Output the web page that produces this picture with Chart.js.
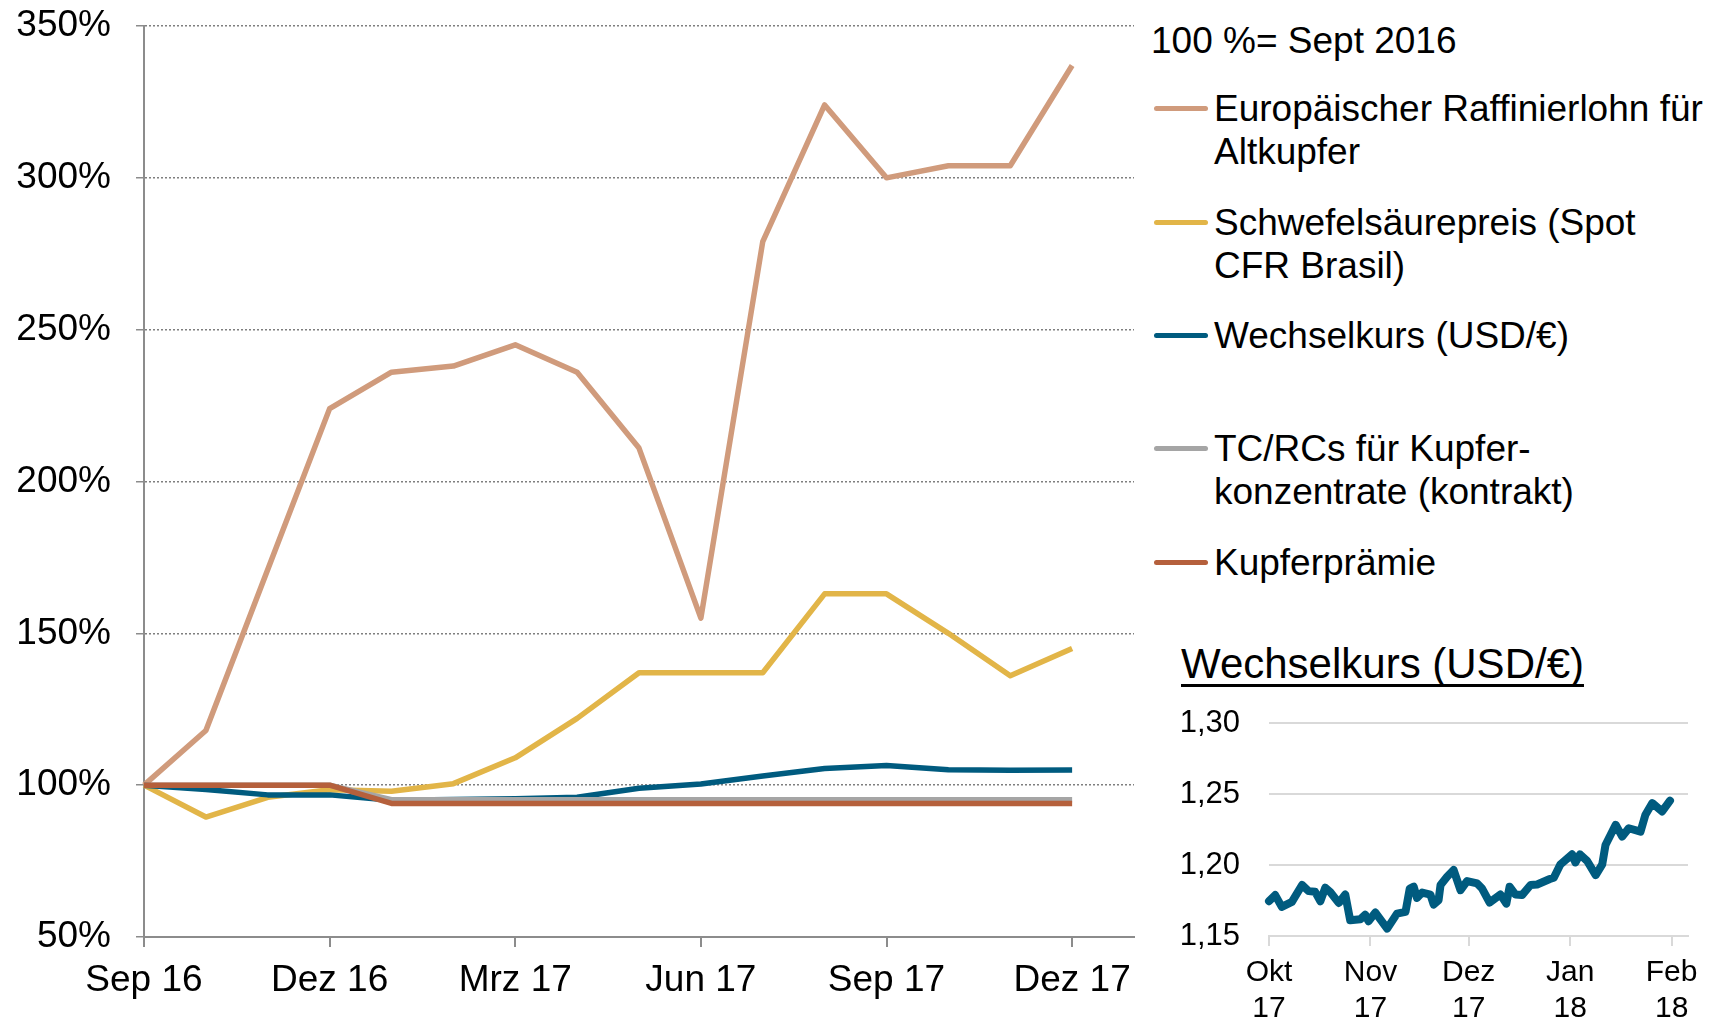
<!DOCTYPE html>
<html>
<head>
<meta charset="utf-8">
<script src="https://cdn.jsdelivr.net/npm/chart.js@4/dist/chart.umd.min.js"></script>
<style>
  body { margin: 0; background: #fff; font-family: "Liberation Sans", Arial, sans-serif; color: #000; }
  #wrap { position: relative; width: 1727px; height: 1021px; overflow: hidden; }
  .abs { position: absolute; }
  .txt { font-size: 37px; line-height: 43px; white-space: nowrap; }
  .swatch { position: absolute; left: 1154px; width: 54px; height: 5px; border-radius: 3px; }
  #insetTitle { left: 1181px; top: 639px; font-size: 42px; line-height: 50px; text-decoration: underline;
                text-decoration-thickness: 3px; text-underline-offset: 6px; text-decoration-skip-ink: none; white-space: nowrap; }
</style>
</head>
<body>
<div id="wrap">
  <canvas id="mainChart" class="abs" width="1140" height="1021" style="left:0;top:0"></canvas>
  <canvas id="insetChart" class="abs" width="587" height="321" style="left:1140px;top:700px"></canvas>
  <div id="legend"></div>
  <div id="insetTitle" class="abs">Wechselkurs (USD/€)</div>
</div>
<script>
// Hauptgrafik, 100 % = Sept 2016
const months = ["Sep 16", "Okt 16", "Nov 16", "Dez 16", "Jan 17", "Feb 17", "Mrz 17", "Apr 17",
                "Mai 17", "Jun 17", "Jul 17", "Aug 17", "Sep 17", "Okt 17", "Nov 17", "Dez 17"];
const raffinierlohn = [100, 118, 171, 224, 236, 238, 245, 236, 211, 155, 279, 324, 300, 304, 304, 337];
const schwefelsaeure = [100, 89.5, 96, 98.5, 98, 100.5, 109, 122, 137, 137, 137, 163, 163, 150, 136, 145];
const wechselkurs = [100, 98.6, 96.8, 96.8, 95, 95.3, 95.5, 96, 99, 100.4, 103, 105.5, 106.5, 105.1, 104.9, 105];
const tcrc = [100, 100, 100, 100, 95.2, 95.2, 95.2, 95.2, 95.2, 95.2, 95.2, 95.2, 95.2, 95.2, 95.2, 95.2];
const kupferpraemie = [100, 100, 100, 100, 94, 94, 94, 94, 94, 94, 94, 94, 94, 94, 94, 94];
const xTickIdx = [0, 3, 6, 9, 12, 15];
const yTicks = [50, 100, 150, 200, 250, 300, 350];

// Inset: Wechselkurs USD/€ (Tage ab 1. Okt 2017)
const insetDays = [0, 1.9, 3.9, 7, 10.1, 12.1, 14.1, 15.7, 17.2, 18.7, 21.3, 23.3, 24.8, 27.9, 29.4, 30.4,
  32.5, 36.1, 39.1, 41.7, 43, 44.2, 45.2, 46.8, 49.3, 50.3, 51.8, 52.4, 54.4, 56.4, 58.5, 60.5, 63.6, 65.1,
  67.4, 70.7, 72.5, 73.5, 75.3, 77.3, 79.9, 81.9, 85.8, 87, 89, 92.6, 93.6, 95, 97.2, 99.8, 101.8, 102.8,
  105.9, 107.9, 109.9, 113.5, 115, 117.1, 120.1, 122.5];
const insetRates = [1.1745, 1.1788, 1.1705, 1.174, 1.1859, 1.1816, 1.1811, 1.1745, 1.184, 1.181, 1.1733,
  1.1792, 1.1611, 1.1618, 1.165, 1.1604, 1.1665, 1.1552, 1.1658, 1.167, 1.1834, 1.1847, 1.1769, 1.1806,
  1.1792, 1.1721, 1.1752, 1.1859, 1.1917, 1.1965, 1.1823, 1.1887, 1.187, 1.1834, 1.1736, 1.1792, 1.1728,
  1.1847, 1.1792, 1.1788, 1.1859, 1.1863, 1.1901, 1.191, 1.2004, 1.2075, 1.2018, 1.2075, 1.2028, 1.1929,
  1.2004, 1.2141, 1.2283, 1.22, 1.2259, 1.2235, 1.2354, 1.2436, 1.2377, 1.2453];
const insetTickDays = [0, 31, 61, 92, 123];
const insetTickLabels = [["Okt", "17"], ["Nov", "17"], ["Dez", "17"], ["Jan", "18"], ["Feb", "18"]];
const insetYTicks = [1.15, 1.20, 1.25, 1.30];

const seriesNames = ["Europäischer Raffinierlohn für\nAltkupfer", "Schwefelsäurepreis (Spot\nCFR Brasil)",
                     "Wechselkurs (USD/€)", "TC/RCs für Kupfer-\nkonzentrate (kontrakt)", "Kupferprämie"];
const seriesColors = ["#D09B7C", "#E2B548", "#005B7F", "#A5A5A5", "#B5603C"];
const seriesData = [raffinierlohn, schwefelsaeure, wechselkurs, tcrc, kupferpraemie];
const legendTops = [87, 201, 314, 427, 541];

Chart.defaults.font.family = '"Liberation Sans", Arial, sans-serif';
Chart.defaults.color = "#000";

// Legende als Text
const legend = document.getElementById("legend");
let head = document.createElement("div");
head.className = "abs txt";
head.style.left = "1151px";
head.style.top = "19px";
head.textContent = "100 %= Sept 2016";
legend.appendChild(head);
seriesNames.forEach((name, i) => {
    const t = document.createElement("div");
    t.className = "abs txt";
    t.style.left = "1214px";
    t.style.top = legendTops[i] + "px";
    t.innerHTML = name.split("\n").join("<br>");
    legend.appendChild(t);
    const s = document.createElement("div");
    s.className = "swatch";
    s.style.top = (legendTops[i] + 19) + "px";
    s.style.background = seriesColors[i];
    legend.appendChild(s);
});

function noScalePad(s) {
    s.paddingTop = 0;
    s.paddingBottom = 0;
    s.paddingLeft = 0;
    s.paddingRight = 0;
}

new Chart(document.getElementById("mainChart"), {
    type: "line",
    data: {
        datasets: seriesData.map((vals, i) => ({
            label: seriesNames[i],
            data: vals.map((v, k) => ({ x: k, y: v })),
            borderColor: seriesColors[i],
            borderWidth: 5.5,
            pointRadius: 0,
            tension: 0,
            fill: false,
            clip: false,
            borderJoinStyle: "round",
            order: 5 - i
        }))
    },
    options: {
        responsive: false,
        animation: false,
        layout: { padding: { top: 26, right: 6 } },
        plugins: { legend: { display: false }, tooltip: { enabled: false } },
        scales: {
            x: {
                type: "linear",
                min: 0,
                max: 16,
                afterBuildTicks: s => { s.ticks = xTickIdx.map(v => ({ value: v })); },
                afterFit: s => { s.height = 84; noScalePad(s); },
                ticks: {
                    font: { size: 37 },
                    padding: 12,
                    maxRotation: 0,
                    autoSkip: false,
                    callback: v => months[v]
                },
                grid: { drawOnChartArea: false, color: "#8c8c8c", lineWidth: 2, tickLength: 10 },
                border: { color: "#8c8c8c", width: 2 }
            },
            y: {
                min: 50,
                max: 350,
                afterBuildTicks: s => { s.ticks = yTicks.map(v => ({ value: v })); },
                afterFit: s => { s.width = 144; noScalePad(s); },
                ticks: { font: { size: 37 }, padding: 25, callback: v => v + "%" },
                grid: { color: "#7f7f7f", lineWidth: 1.5, tickLength: 8, tickBorderDash: [], tickColor: "#8c8c8c" },
                border: { color: "#8c8c8c", width: 2, dash: [2, 2] }
            }
        }
    }
});

new Chart(document.getElementById("insetChart"), {
    type: "line",
    data: {
        datasets: [{
            data: insetDays.map((d, k) => ({ x: d, y: insetRates[k] })),
            borderColor: "#005B7F",
            borderWidth: 8,
            pointRadius: 0,
            tension: 0,
            clip: false,
            borderJoinStyle: "round",
            borderCapStyle: "round"
        }]
    },
    options: {
        responsive: false,
        animation: false,
        layout: { padding: { top: 23, right: 39 } },
        plugins: { legend: { display: false }, tooltip: { enabled: false } },
        scales: {
            x: {
                type: "linear",
                min: 0,
                max: 128,
                afterBuildTicks: s => { s.ticks = insetTickDays.map(v => ({ value: v })); },
                afterFit: s => { s.height = 85; noScalePad(s); },
                ticks: {
                    font: { size: 30, lineHeight: 1.2 },
                    padding: 9,
                    maxRotation: 0,
                    autoSkip: false,
                    callback: (v, i) => insetTickLabels[i]
                },
                grid: { drawOnChartArea: false, color: "#d9d9d9", lineWidth: 2, tickLength: 10 },
                border: { color: "#d9d9d9", width: 2 }
            },
            y: {
                min: 1.15,
                max: 1.30,
                afterBuildTicks: s => { s.ticks = insetYTicks.map(v => ({ value: v })); },
                afterFit: s => { s.width = 129; noScalePad(s); },
                ticks: { font: { size: 31 }, padding: 29, callback: v => v.toFixed(2).replace(".", ",") },
                grid: { color: "#d9d9d9", lineWidth: 2, drawTicks: false },
                border: { display: false }
            }
        }
    }
});
</script>
</body>
</html>
